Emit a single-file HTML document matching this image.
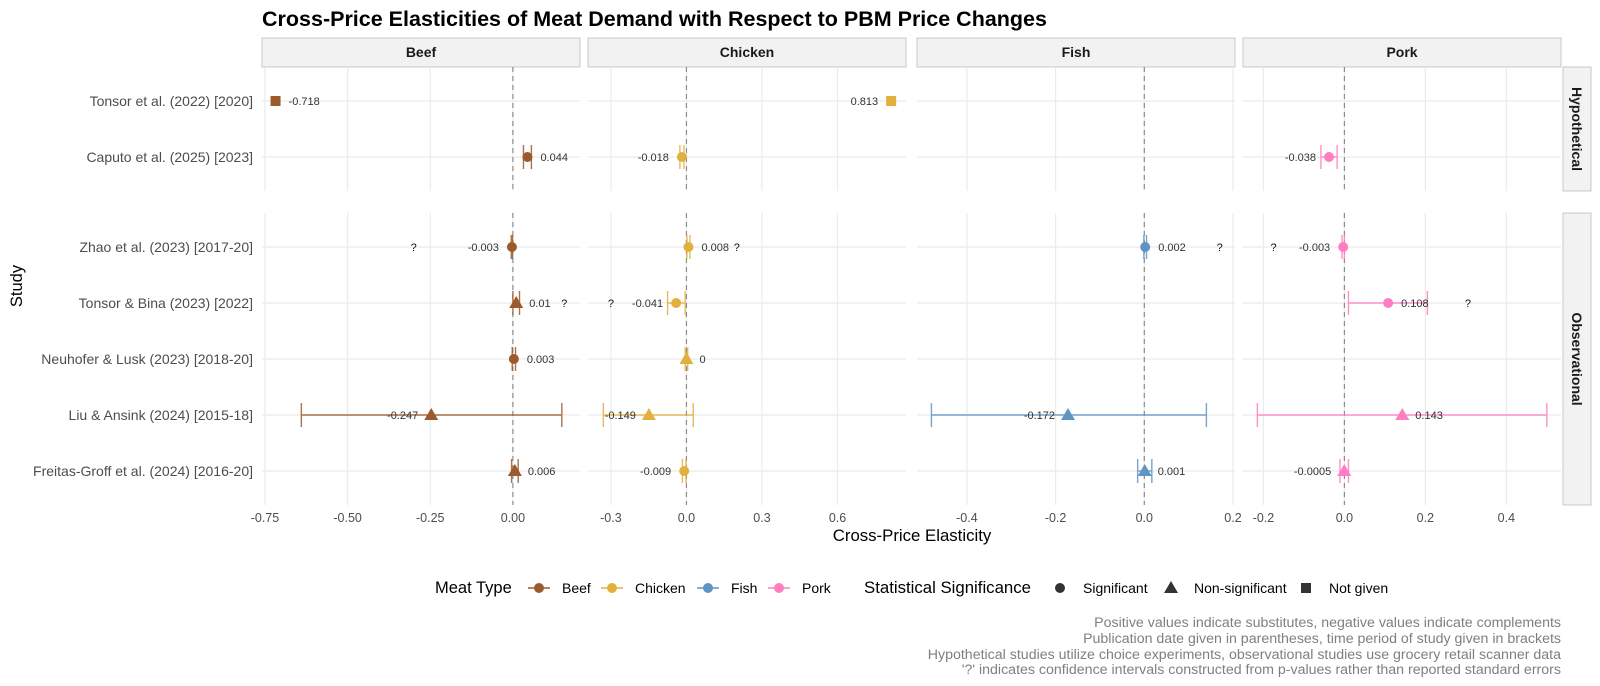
<!DOCTYPE html>
<html><head><meta charset="utf-8"><style>
html,body{margin:0;padding:0;background:#fff;}
svg{display:block;font-family:"Liberation Sans",Arial,sans-serif;}
</style></head><body>
<svg id="chart" width="1600" height="686" viewBox="0 0 1600 686" xmlns="http://www.w3.org/2000/svg">
<text x="262" y="26" font-size="21.5" font-weight="bold" fill="#000">Cross-Price Elasticities of Meat Demand with Respect to PBM Price Changes</text>
<text x="912" y="541" font-size="16.8" fill="#000" text-anchor="middle">Cross-Price Elasticity</text>
<text transform="translate(22,286) rotate(-90)" font-size="16.5" fill="#000" text-anchor="middle">Study</text>
<g id="legend">
<text x="435" y="593" font-size="16.5" fill="#000">Meat Type</text>
<text x="864" y="593" font-size="16.8" fill="#000">Statistical Significance</text>
</g>
<g font-size="14.2" fill="#7f7f7f" text-anchor="end">
<text x="1561" y="627">Positive values indicate substitutes, negative values indicate complements</text>
<text x="1561" y="643">Publication date given in parentheses, time period of study given in brackets</text>
<text x="1561" y="659">Hypothetical studies utilize choice experiments, observational studies use grocery retail scanner data</text>
<text x="1561" y="674">'?' indicates confidence intervals constructed from p-values rather than reported standard errors</text>
</g>
</svg>
<script>
const studies = ['Tonsor et al. (2022) [2020]','Caputo et al. (2025) [2023]','Zhao et al. (2023) [2017-20]','Tonsor & Bina (2023) [2022]','Neuhofer & Lusk (2023) [2018-20]','Liu & Ansink (2024) [2015-18]','Freitas-Groff et al. (2024) [2016-20]'];
const groups = ['Hypothetical','Hypothetical','Observational','Observational','Observational','Observational','Observational'];
const meats = ['Beef','Chicken','Fish','Pork'];
const beefTicks = [-0.75,-0.5,-0.25,0];
const beefTickLabels = ['-0.75','-0.50','-0.25','0.00'];
const chickenTicks = [-0.3,0,0.3,0.6];
const chickenTickLabels = ['-0.3','0.0','0.3','0.6'];
const fishTicks = [-0.4,-0.2,0,0.2];
const fishTickLabels = ['-0.4','-0.2','0.0','0.2'];
const porkTicks = [-0.2,0,0.2,0.4];
const porkTickLabels = ['-0.2','0.0','0.2','0.4'];
const beefDomain = [-0.759,0.203];
const chickenDomain = [-0.391,0.872];
const fishDomain = [-0.5125,0.2045];
const porkDomain = [-0.2505,0.535];

const beefEst = [-0.718,0.044,-0.003,0.01,0.003,-0.247,0.006];
const beefLo = [null,0.032,-0.005,0.0,-0.002,-0.64,-0.004];
const beefHi = [null,0.056,-0.001,0.02,0.008,0.148,0.016];
const beefSig = ['n','s','s','ns','s','ns','ns'];
const beefLabels = ['-0.718','0.044','-0.003','0.01','0.003','-0.247','0.006'];
const beefQ = [null,null,-0.30,0.155,null,null,null];

const chickenEst = [0.813,-0.018,0.008,-0.041,0,-0.149,-0.009];
const chickenLo = [null,-0.026,0.002,-0.075,-0.005,-0.33,-0.016];
const chickenHi = [null,-0.010,0.014,-0.005,0.005,0.027,-0.002];
const chickenSig = ['n','s','s','s','ns','ns','s'];
const chickenLabels = ['0.813','-0.018','0.008','-0.041','0','-0.149','-0.009'];
const chickenQ = [null,null,0.2,-0.3,null,null,null];

const fishEst = [null,null,0.002,null,null,-0.172,0.001];
const fishLo = [null,null,-0.001,null,null,-0.48,-0.015];
const fishHi = [null,null,0.005,null,null,0.14,0.017];
const fishSig = [null,null,'s',null,null,'ns','ns'];
const fishLabels = [null,null,'0.002',null,null,'-0.172','0.001'];
const fishQ = [null,null,0.17,null,null,null,null];

const porkEst = [null,-0.038,-0.003,0.108,null,0.143,-0.0005];
const porkLo = [null,-0.058,-0.006,0.01,null,-0.215,-0.011];
const porkHi = [null,-0.018,0.0,0.205,null,0.5,0.01];
const porkSig = [null,'s','s','s',null,'ns','ns'];
const porkLabels = [null,'-0.038','-0.003','0.108',null,'0.143','-0.0005'];
const porkQ = [null,null,-0.175,0.305,null,null,null];

const NS='http://www.w3.org/2000/svg';
const svg=document.getElementById('chart');
function mk(tag,attrs,parent){const e=document.createElementNS(NS,tag);for(const k in attrs)e.setAttribute(k,attrs[k]);(parent||svg).appendChild(e);return e;}

const colors={Beef:'#9B5B2D',Chicken:'#E2B03E',Fish:'#6094C2',Pork:'#FF7EC0'};
const panelLeft=[262,588,917,1243], panelW=318;
const groupTop={Hypothetical:67,Observational:213};
const groupBottom={Hypothetical:191,Observational:505};
const rowBase={Hypothetical:101,Observational:247};
const rowStep=56;
const meatData={
 Beef:{dom:beefDomain,ticks:beefTicks,tl:beefTickLabels,est:beefEst,lo:beefLo,hi:beefHi,sig:beefSig,lab:beefLabels,q:beefQ},
 Chicken:{dom:chickenDomain,ticks:chickenTicks,tl:chickenTickLabels,est:chickenEst,lo:chickenLo,hi:chickenHi,sig:chickenSig,lab:chickenLabels,q:chickenQ},
 Fish:{dom:fishDomain,ticks:fishTicks,tl:fishTickLabels,est:fishEst,lo:fishLo,hi:fishHi,sig:fishSig,lab:fishLabels,q:fishQ},
 Pork:{dom:porkDomain,ticks:porkTicks,tl:porkTickLabels,est:porkEst,lo:porkLo,hi:porkHi,sig:porkSig,lab:porkLabels,q:porkQ}
};
function xScale(pi,v){const d=meatData[meats[pi]].dom;return panelLeft[pi]+(v-d[0])/(d[1]-d[0])*panelW;}
function yScale(i){const g=groups[i];let k=0;for(let j=0;j<i;j++)if(groups[j]===g)k++;return rowBase[g]+k*rowStep;}

function drawShape(sig,x,y,color,parent){
 let e;
 if(sig==='s'){e=mk('circle',{cx:x,cy:y,r:5,fill:color},parent);}
 else if(sig==='ns'){e=mk('path',{d:`M${x},${y-7} L${x+7},${y+5} L${x-7},${y+5} Z`,fill:color},parent);}
 else {e=mk('rect',{x:x-5,y:y-5,width:10,height:10,fill:color},parent);}
 return e;
}

studies.forEach((s,i)=>{
 const t=mk('text',{x:253,y:yScale(i)+5,'font-size':14,fill:'#4d4d4d','text-anchor':'end'});
 t.textContent=s;
 
 
});

['Hypothetical','Observational'].forEach(g=>{
 const top=groupTop[g],bot=groupBottom[g];
 const r=mk('rect',{x:1563,y:top,width:28,height:bot-top,fill:'#f2f2f2',stroke:'#c8c8c8','stroke-width':1});
 
 
 const t=mk('text',{transform:`translate(1572,${(top+bot)/2}) rotate(90)`,'font-size':14,'font-weight':'bold',fill:'#1a1a1a','text-anchor':'middle'});
 t.textContent=g;
 
 
});

meats.forEach((m,pi)=>{
 const md=meatData[m];const L=panelLeft[pi];
 const sr=mk('rect',{x:L,y:38,width:panelW,height:29,fill:'#f2f2f2',stroke:'#c8c8c8','stroke-width':1});
 
 
 const st=mk('text',{x:L+panelW/2,y:57,'font-size':14,'font-weight':'bold',fill:'#1a1a1a','text-anchor':'middle'});
 st.textContent=m;
 
 
 const panelG=mk('g',{});
 
 
 ['Hypothetical','Observational'].forEach(g=>{
  const top=groupTop[g],bot=groupBottom[g];
  md.ticks.forEach(t=>{
   const gl=mk('line',{x1:xScale(pi,t),x2:xScale(pi,t),y1:top,y2:bot,stroke:'#ebebeb','stroke-width':1.2},panelG);
   
   
  });
  studies.forEach((s,i)=>{ if(groups[i]!==g)return;
   const y=yScale(i);
   const hl=mk('line',{x1:L,x2:L+panelW,y1:y,y2:y,stroke:'#ebebeb','stroke-width':1.2},panelG);
   
   
  });
  const z=mk('line',{x1:xScale(pi,0),x2:xScale(pi,0),y1:top,y2:bot,stroke:'#8c8c8c','stroke-width':1.2,'stroke-dasharray':'5,4'},panelG);
  
  
 });
 md.ticks.forEach((t,k)=>{
  const tt=mk('text',{x:xScale(pi,t),y:522,'font-size':12.5,fill:'#4d4d4d','text-anchor':'middle'});
  tt.textContent=md.tl[k];
  
  
 });
 const c=colors[m];
 md.est.forEach((v,i)=>{
  if(v===null)return;
  const y=yScale(i);const x=xScale(pi,v);
  if(md.lo[i]!==null){
   const x1=xScale(pi,md.lo[i]),x2=xScale(pi,md.hi[i]);
   const eb=mk('path',{d:`M${x1},${y} L${x2},${y} M${x1},${y-12} L${x1},${y+12} M${x2},${y-12} L${x2},${y+12}`,stroke:c,'stroke-width':1.4,fill:'none','stroke-opacity':0.85},panelG);
   
   
  }
  const p=drawShape(md.sig[i],x,y,c,panelG);
  
  
  let left = v<0;
  if(v<0 && x-L<60) left=false;
  if(v>0 && L+panelW-x<35) left=true;
  const lt=mk('text',{x:left?x-13:x+13,y:y+4,'font-size':11,fill:'#333','text-anchor':left?'end':'start'},panelG);
  lt.textContent=md.lab[i];
  
  
  if(md.q[i]!==null){
   const qt=mk('text',{x:xScale(pi,md.q[i]),y:y+4,'font-size':11,fill:'#111','text-anchor':'middle'},panelG);
   qt.textContent='?';
   
   
  }
 });
});

const lg=document.getElementById('legend');
const meatKeyX=[539,612,708,779];
meats.forEach((m,k)=>{
 const g=mk('g',{},lg);
 
 
 mk('line',{x1:meatKeyX[k]-11,x2:meatKeyX[k]+11,y1:588,y2:588,stroke:colors[m],'stroke-width':1.4},g);
 mk('circle',{cx:meatKeyX[k],cy:588,r:5,fill:colors[m]},g);
 const t=mk('text',{x:meatKeyX[k]+23,y:593,'font-size':14,fill:'#000'},g);
 t.textContent=m;
});
const sigNames=['Significant','Non-significant','Not given'];
const sigCodes=['s','ns','n'];
const sigKeyX=[1060,1171,1306];
sigNames.forEach((s,k)=>{
 const g=mk('g',{},lg);
 
 
 drawShape(sigCodes[k],sigKeyX[k],588,'#333',g);
 const t=mk('text',{x:sigKeyX[k]+23,y:593,'font-size':14,fill:'#000'},g);
 t.textContent=s;
});
</script>
</body></html>
